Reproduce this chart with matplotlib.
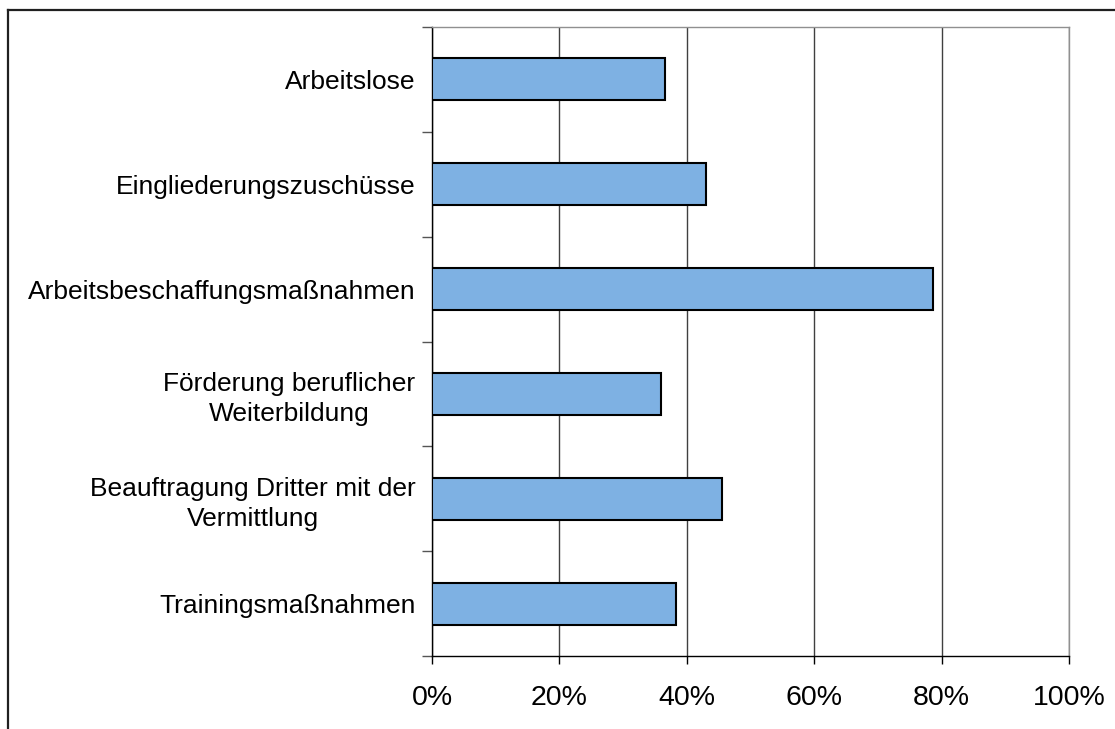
import matplotlib
matplotlib.use("Agg")
import matplotlib.pyplot as plt
from matplotlib.lines import Line2D

categories = [
    "Arbeitslose",
    "Eingliederungszuschüsse",
    "Arbeitsbeschaffungsmaßnahmen",
    "Förderung beruflicher\nWeiterbildung",
    "Beauftragung Dritter mit der\nVermittlung",
    "Trainingsmaßnahmen",
]
values = [36.6, 43.0, 78.6, 36.0, 45.6, 38.3]
xticks = [0, 20, 40, 60, 80, 100]
xtick_labels = ["0%", "20%", "40%", "60%", "80%", "100%"]

plt.rcParams['font.family'] = ['Liberation Sans', 'DejaVu Sans']

fig = plt.figure(figsize=(11.15, 7.29), dpi=100)
W, H = 1115, 729
ax = fig.add_axes([432 / W, 1 - 656 / H, (1069 - 432) / W, (656 - 27) / H])

n = len(categories)
ypos = list(range(n))
ax.barh(ypos, values, height=0.4, color="#7EB1E3", edgecolor="black", linewidth=1.5, zorder=3)
ax.set_ylim(n - 0.5, -0.5)
ax.set_xlim(0, 100)

ax.set_xticks(xticks)
ax.set_xticklabels(xtick_labels, fontsize=20.5)
ax.set_yticks(ypos)
ax.set_yticklabels(categories, fontsize=19, multialignment="center", linespacing=1.3)
ax.set_yticks([i - 0.5 for i in range(n + 1)], minor=True)
ax.tick_params(axis="y", which="major", length=0, pad=12)
ax.tick_params(axis="y", which="minor", length=7.5, width=1, color="#555555", direction="out")
ax.tick_params(axis="x", which="major", length=6, width=1, color="black", direction="out", pad=15)

ax.grid(axis="x", color="#404040", linewidth=1, zorder=0)
for s in ["top", "right"]:
    ax.spines[s].set_color("#909090")
    ax.spines[s].set_linewidth(1)
for s in ["left", "bottom"]:
    ax.spines[s].set_color("black")
    ax.spines[s].set_linewidth(1)

# outer chart frame (top and left visible)
fig.add_artist(Line2D([8 / W, 1.0], [1 - 10 / H, 1 - 10 / H], transform=fig.transFigure, color="#202020", linewidth=1.6))
fig.add_artist(Line2D([8 / W, 8 / W], [0.0, 1 - 10 / H], transform=fig.transFigure, color="#202020", linewidth=1.6))

fig.savefig("out.png", dpi=100)
